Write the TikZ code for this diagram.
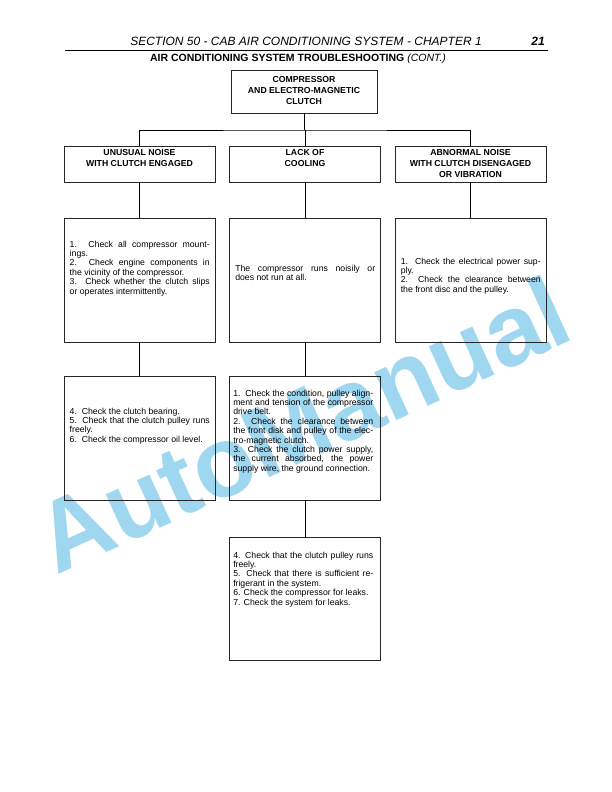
\documentclass[tikz,border=0pt]{standalone}
\usepackage{fontspec}
\setmainfont{Liberation Sans}
\usetikzlibrary{positioning}
\definecolor{wmblue}{RGB}{160,215,240}
\tolerance=9999

\begin{document}
\begin{tikzpicture}[x=1bp,y=-1bp]
\tikzset{tbox/.style={ %
		draw=black!85,
		line width=0.9bp,
		inner sep=0pt,
		minimum width=151bp,
		minimum height=#1 %
	},
	headtxt/.style={inner sep=0pt,align=center,
		font=\fontsize{8.7bp}{11bp}\selectfont\bfseries},
	bodytxt/.style={inner sep=0pt,text width=140bp,align=justify,
		font=\fontsize{8.7bp}{9.4bp}\selectfont}
}
\useasboundingbox (0,0) rectangle (612,792);
% watermark
\node[rotate=24.5,text=wmblue,font=\fontsize{100bp}{100bp}\selectfont\bfseries] (wmark) at (302,424) {AutoManual};
% page head
\node[anchor=base,font=\fontsize{12bp}{14bp}\selectfont\itshape] (sect) at (306,46) {SECTION 50 - CAB AIR CONDITIONING SYSTEM - CHAPTER 1};
\node[anchor=base,font=\fontsize{12bp}{14bp}\selectfont\bfseries\itshape] (page) at (538,46) {21};
\draw[line width=1bp] (65,51) coordinate (rulel) -- (548,51) coordinate (ruler);
\node[anchor=base,font=\fontsize{10.5bp}{12bp}\selectfont\bfseries] (title) at (298,62) {AIR CONDITIONING SYSTEM TROUBLESHOOTING \textmd{\itshape(CONT.)}};
% boxes
\node[tbox=43bp,minimum width=146bp] (top) at (304,91.5) {};
\node[tbox=36bp] (l2) at (139.5,164) {};
\node[tbox=36bp] (m2) at (305,164) {};
\node[tbox=36bp] (r2) at (470.5,164) {};
\node[tbox=124bp] (l3) at (139.5,280) {};
\node[tbox=124bp] (m3) at (305,280) {};
\node[tbox=124bp] (r3) at (470.5,280) {};
\node[tbox=124bp] (l4) at (139.5,438) {};
\node[tbox=124bp] (m4) at (305,438) {};
\node[tbox=123bp] (m5) at (305,598.5) {};
% connectors
\coordinate (hub) at (305,130);
\draw[line width=0.8bp] (top.south) -- (top.south |- hub);
\draw[line width=0.8bp] (l2.north) |- (hub) -| (r2.north);
\draw[line width=0.8bp] (m2.north) -- (m2.north |- hub);
\foreach \a/\b in {l2/l3,m2/m3,r2/r3,l3/l4,m3/m4,m4/m5}
	\draw[line width=0.8bp] (\a.south) -- (\b.north);
% texts
\node[headtxt,below=6.5bp of top.north] (toptxt) {COMPRESSOR\\AND ELECTRO-MAGNETIC\\CLUTCH};
\node[headtxt,below=4bp of l2.north] (l2txt) {UNUSUAL NOISE\\WITH CLUTCH ENGAGED};
\node[headtxt,below=4bp of m2.north] (m2txt) {LACK OF\\COOLING};
\node[headtxt,below=4bp of r2.north] (r2txt) {ABNORMAL NOISE\\WITH CLUTCH DISENGAGED\\OR VIBRATION};
\node[bodytxt,below right=23bp and 6bp of l3.north west] (l3txt) {1. Check all compressor mount-\linebreak ings.\newline 2. Check engine components in\linebreak the vicinity of the compressor.\newline 3. Check whether the clutch slips\linebreak or operates intermittently.};
\node[bodytxt,below right=47bp and 6bp of m3.north west] (m3txt) {The compressor runs noisily or\linebreak does not run at all.};
\node[bodytxt,below right=40bp and 6bp of r3.north west] (r3txt) {1.\ \ Check the electrical power sup-\linebreak ply.\newline 2.\ \ Check the clearance between\linebreak the front disc and the pulley.};
\node[bodytxt,below right=32bp and 6bp of l4.north west] (l4txt) {4.\ \ Check the clutch bearing.\newline 5.\ \ Check that the clutch pulley runs\linebreak freely.\newline 6.\ \ Check the compressor oil level.};
\node[bodytxt,below right=14bp and 4bp of m4.north west] (m4txt) {1.\ \ Check the condition, pulley align-\linebreak ment and tension of the compressor\linebreak drive belt.\newline 2. Check the clearance between\linebreak the front disk and pulley of the elec-\linebreak tro-magnetic clutch.\newline 3. Check the clutch power supply,\linebreak the current absorbed, the power\linebreak supply wire, the ground connection.};
\node[bodytxt,below right=15bp and 4bp of m5.north west] (m5txt) {4. Check that the clutch pulley runs\linebreak freely.\newline 5. Check that there is sufficient re-\linebreak frigerant in the system.\newline 6. Check the compressor for leaks.\newline 7. Check the system for leaks.};
\end{tikzpicture}
\end{document}
